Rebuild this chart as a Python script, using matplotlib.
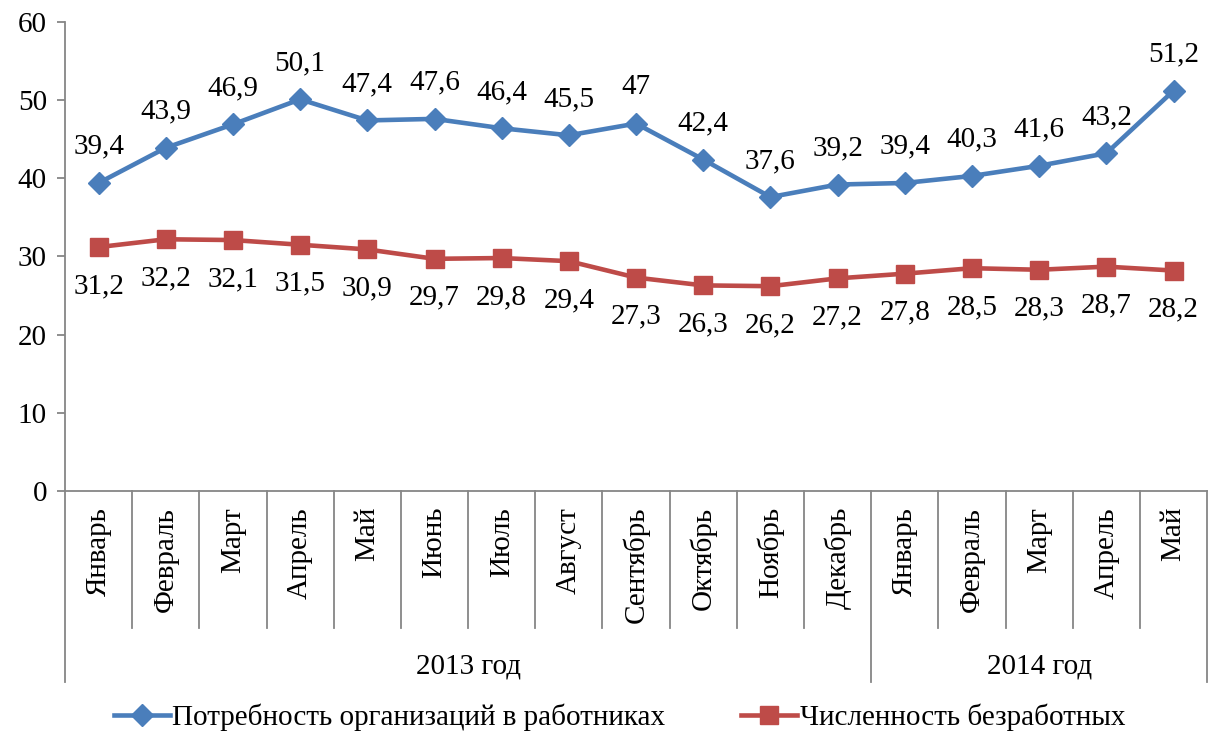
import matplotlib.pyplot as plt
import matplotlib.transforms as mtransforms
from matplotlib.lines import Line2D

plt.rcParams['font.family'] = ['Liberation Serif', 'DejaVu Serif']

# данные
months = ['Январь', 'Февраль', 'Март', 'Апрель', 'Май', 'Июнь', 'Июль', 'Август',
          'Сентябрь', 'Октябрь', 'Ноябрь', 'Декабрь',
          'Январь', 'Февраль', 'Март', 'Апрель', 'Май']
years = ['2013 год', '2014 год']
year_len = [12, 5]
demand = [39.4, 43.9, 46.9, 50.1, 47.4, 47.6, 46.4, 45.5, 47, 42.4, 37.6, 39.2,
          39.4, 40.3, 41.6, 43.2, 51.2]
unemployed = [31.2, 32.2, 32.1, 31.5, 30.9, 29.7, 29.8, 29.4, 27.3, 26.3, 26.2, 27.2,
              27.8, 28.5, 28.3, 28.7, 28.2]
demand_name = 'Потребность организаций в работниках'
unemp_name = 'Численность безработных'

blue = '#4A7EBB'
red = '#BE4B48'
grey = '#868686'
fs = 21

fig = plt.figure(figsize=(12.15, 7.31), dpi=100)
ax = fig.add_axes([0.0535, 0.3283, 0.94, 0.6417])

x = list(range(len(months)))
ax.plot(x, demand, color=blue, lw=3.3, marker='D', ms=11, label=demand_name)
ax.plot(x, unemployed, color=red, lw=3.3, marker='s', ms=13, label=unemp_name)


def fmt(v):
    s = ('%.1f' % v).rstrip('0').rstrip('.')
    return s.replace('.', ',')


for xi, v in zip(x, demand):
    ax.annotate(fmt(v), (xi, v), xytext=(0, 26), textcoords='offset points',
                ha='center', va='center', fontsize=fs)
for xi, v in zip(x, unemployed):
    ax.annotate(fmt(v), (xi, v), xytext=(0, -28), textcoords='offset points',
                ha='center', va='center', fontsize=fs)

ax.set_xlim(-0.5, len(months) - 0.5)
ax.set_ylim(0, 60)
ax.set_yticks(range(0, 61, 10))
ax.tick_params(axis='y', labelsize=fs, length=6, width=1.3, color=grey, pad=7)
ax.set_xticks([])
for s in ['top', 'right']:
    ax.spines[s].set_visible(False)
for s in ['left', 'bottom']:
    ax.spines[s].set_color(grey)
    ax.spines[s].set_linewidth(1.3)

# многоуровневая ось категорий
tr = mtransforms.blended_transform_factory(ax.transData, ax.transAxes)
month_bottom = -0.292
year_bottom = -0.407
year_edges = [0]
for n in year_len:
    year_edges.append(year_edges[-1] + n)
for k in range(len(months) + 1):
    yb = year_bottom if k in year_edges else month_bottom
    ax.plot([k - 0.5, k - 0.5], [0, yb], color=grey, lw=1.3, transform=tr, clip_on=False)
for xi, m in zip(x, months):
    ax.text(xi, -0.034, m, rotation=90, ha='center', va='top', fontsize=fs, transform=tr)
for i, y in enumerate(years):
    mid = (year_edges[i] + year_edges[i + 1] - 1) / 2
    ax.text(mid, -0.375, y, ha='center', va='center', fontsize=fs, transform=tr)

handles = [Line2D([], [], color=blue, lw=3.3, marker='D', ms=11),
           Line2D([], [], color=red, lw=3.3, marker='s', ms=13)]
fig.legend(handles, [demand_name, unemp_name], loc='center', bbox_to_anchor=(0.51, 0.019),
           ncol=2, frameon=False, fontsize=fs, handlelength=1.9, handletextpad=0.1,
           columnspacing=2.6)

fig.savefig('out.png', dpi=100)
